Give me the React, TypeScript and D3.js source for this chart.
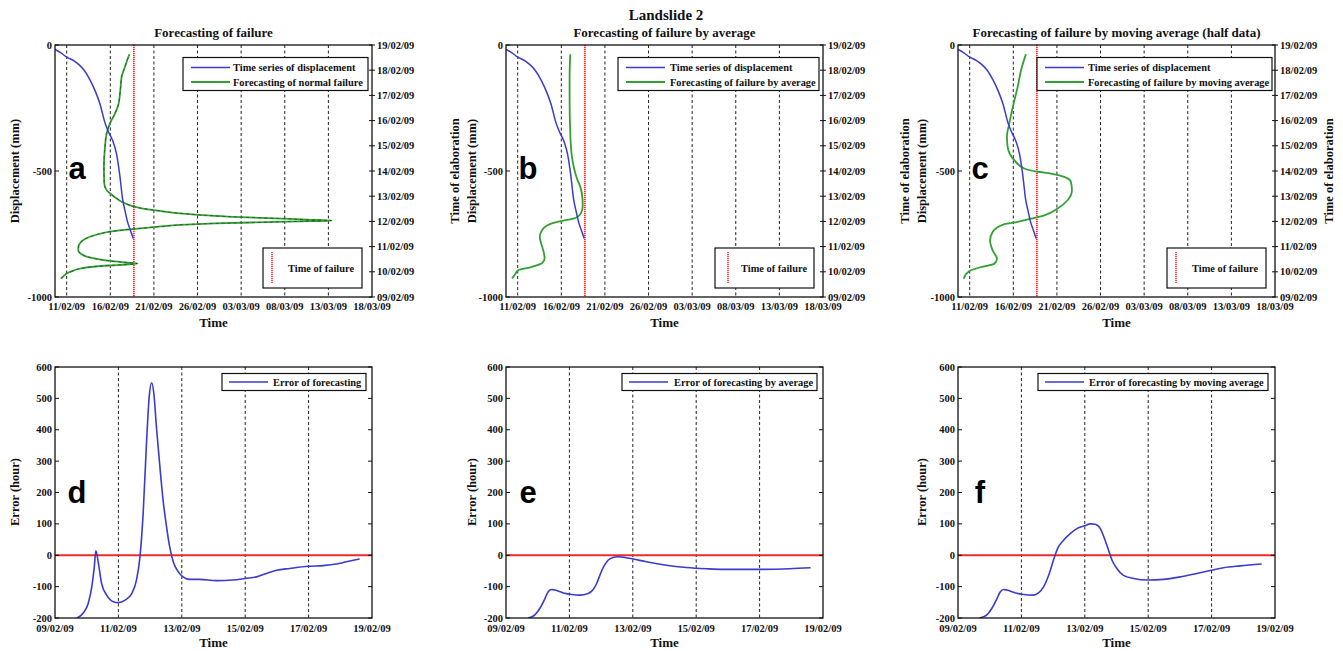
import { useEffect, useRef } from 'react';
import * as d3 from 'd3';

// day-of-February 2009 (values past 28 run into March)
const day = (d: number) => new Date(Date.UTC(2009, 1, 1) + (d - 1) * 864e5);
const parse = d3.utcParse('%d/%m/%y');

// time series of displacement: [day, mm]
const displacement: [number, number][] = [
  [9.66, -17], [10.3, -30], [11.0, -48], [11.8, -62], [12.4, -78], [13.0, -100], [13.7, -140],
  [14.3, -185], [14.8, -232], [15.4, -310], [15.8, -345], [16.3, -382], [16.7, -430], [17.1, -520],
  [17.4, -610], [17.7, -660], [18.0, -705], [18.3, -735], [18.63, -768],
];

// forecasts: [time of elaboration, forecast failure day]
const forecastNormal: [number, number][] = [
  [9.73, 10.35], [9.85, 10.7], [9.95, 11.1], [10.05, 11.8], [10.13, 12.53], [10.2, 14.0], [10.25, 15.8],
  [10.29, 17.87], [10.33, 19.1], [10.37, 17.8], [10.43, 15.96], [10.52, 14.3], [10.6, 13.29], [10.72, 12.6],
  [10.86, 12.33], [11.0, 12.35], [11.13, 12.52], [11.26, 12.9], [11.39, 13.67], [11.5, 14.7], [11.59, 15.96],
  [11.67, 17.8], [11.73, 19.74], [11.8, 21.8], [11.86, 23.98], [11.92, 28], [11.97, 34], [12.01, 39],
  [12.03, 41.35], [12.07, 38.5], [12.11, 35.8], [12.18, 30.08], [12.24, 27], [12.31, 24.36], [12.39, 22.2],
  [12.47, 20.54], [12.55, 19.2], [12.64, 18.25], [12.78, 17.3], [12.91, 16.73], [13.08, 16.1], [13.24, 15.58],
  [13.5, 15.31], [13.8, 15.28], [14.2, 15.27], [14.96, 15.39], [15.49, 15.58], [15.89, 15.96], [16.28, 16.53],
  [16.6, 16.9], [17.08, 17.11], [17.4, 17.2], [17.74, 17.3], [18.14, 17.68], [18.63, 18.18],
];
const forecastAverage: [number, number][] = [
  [9.74, 10.36], [9.9, 10.7], [10.07, 11.1], [10.18, 12.45], [10.34, 13.8], [10.54, 14.09], [10.75, 14.0],
  [11.0, 13.8], [11.39, 13.53], [11.66, 13.8], [11.82, 14.3], [11.95, 15.19], [12.05, 16.5], [12.12, 17.48],
  [12.32, 18.25], [12.6, 18.45], [12.85, 18.44], [13.38, 18.17], [13.64, 17.86], [14.56, 17.22],
  [15.49, 17.03], [16.81, 16.95], [17.74, 16.95], [18.63, 17.03],
];
const forecastMoving: [number, number][] = [
  [9.73, 10.31], [10.03, 10.96], [10.19, 12.3], [10.32, 13.82], [10.52, 14.13], [10.85, 13.63], [11.25, 13.33],
  [11.58, 13.63], [11.89, 14.97], [11.98, 16.5], [12.11, 18.02], [12.24, 19.55], [12.51, 21.08], [12.84, 22.22],
  [13.24, 22.72], [13.57, 22.6], [13.77, 21.84], [13.9, 20.31], [13.97, 18.79], [14.1, 17.26], [14.43, 16.11],
  [14.96, 15.35], [15.36, 15.27], [15.89, 15.54], [16.68, 16.04], [17.34, 16.5], [18.14, 16.99], [18.63, 17.45],
];
const failureDay = 18.7;

// errors: [day, hours]
const errorNormal: [number, number][] = [
  [9.7, -200], [9.89, -184], [10.05, -153], [10.16, -101], [10.24, -37], [10.29, 14], [10.37, -26], [10.47, -90],
  [10.63, -127], [10.84, -148], [11.0, -151], [11.21, -143], [11.42, -122], [11.57, -79], [11.68, -5],
  [11.78, 132], [11.89, 365], [11.97, 503], [12.05, 550], [12.12, 514], [12.2, 408], [12.31, 281], [12.41, 175],
  [12.52, 90], [12.62, 26], [12.73, -21], [12.89, -53], [13.04, -69], [13.25, -77], [13.57, -77], [14.09, -81],
  [14.62, -79], [15.0, -74], [15.36, -69], [15.67, -58], [15.99, -48], [16.41, -42], [16.99, -35], [17.46, -33],
  [17.88, -28], [18.19, -21], [18.61, -12],
];
const errorAverage: [number, number][] = [
  [9.7, -200], [9.91, -190], [10.07, -169], [10.23, -138], [10.33, -116], [10.44, -109], [10.54, -111],
  [10.81, -120], [11.07, -125], [11.33, -127], [11.59, -122], [11.75, -109], [11.86, -90], [11.96, -64],
  [12.09, -35], [12.22, -16], [12.38, -7], [12.54, -5], [12.75, -7], [13.01, -12], [13.43, -21], [14.06, -32],
  [14.69, -39], [15.32, -43], [15.85, -45], [16.9, -45], [17.95, -43], [18.61, -40],
];
const errorMoving: [number, number][] = [
  [9.68, -200], [9.91, -190], [10.07, -169], [10.23, -138], [10.33, -117], [10.44, -109], [10.54, -111],
  [10.81, -120], [11.07, -125], [11.38, -127], [11.54, -120], [11.7, -101], [11.86, -64], [12.01, -16],
  [12.14, 21], [12.33, 48], [12.54, 69], [12.75, 85], [13.0, 94], [13.17, 100], [13.33, 99], [13.49, 85],
  [13.64, 48], [13.75, 16], [13.86, -16], [14.01, -42], [14.22, -64], [14.54, -74], [14.99, -79], [15.48, -77],
  [16.01, -69], [16.53, -58], [16.99, -48], [17.37, -40], [17.9, -34], [18.58, -28],
];

// tick labels
const topTimeTicks = ['11/02/09', '16/02/09', '21/02/09', '26/02/09', '03/03/09', '08/03/09', '13/03/09', '18/03/09'];
const elabTicks = ['09/02/09', '10/02/09', '11/02/09', '12/02/09', '13/02/09', '14/02/09', '15/02/09', '16/02/09', '17/02/09', '18/02/09', '19/02/09'];
const dispTicks = [0, -500, -1000];
const errTimeTicks = ['09/02/09', '11/02/09', '13/02/09', '15/02/09', '17/02/09', '19/02/09'];
const errTicks = [600, 500, 400, 300, 200, 100, 0, -100, -200];

const BLUE = '#3b3bcc';
const GREEN = '#33a033';
const RED = '#ee2b2b';
const SERIF = '"Liberation Serif", "Times New Roman", serif';
const SANS = '"Liberation Sans", Arial, sans-serif';
const W = 317;
const TICK = 10.5;
const LEG = 10.4;

const topPanels = [
  { left: 55, letter: 'a', title: 'Forecasting of failure', green: forecastNormal, dashed: true,
    greenLabel: 'Forecasting of normal failure', yLabels: [{ x: 15, t: 'Displacement (mm)' }], rightLabel: false,
    leg: [128, 313, 178], leg2: [208, 307, 217, 233] },
  { left: 506, letter: 'b', title: 'Forecasting of failure by average', green: forecastAverage, dashed: false,
    greenLabel: 'Forecasting of failure by average',
    yLabels: [{ x: 455, t: 'Time of elaboration' }, { x: 472, t: 'Displacement (mm)' }], rightLabel: false,
    leg: [112, 313, 164], leg2: [209, 308, 222, 235] },
  { left: 958, letter: 'c', title: 'Forecasting of failure by moving average (half data)', green: forecastMoving, dashed: false,
    greenLabel: 'Forecasting of failure by moving average',
    yLabels: [{ x: 905, t: 'Time of elaboration' }, { x: 922, t: 'Displacement (mm)' }], rightLabel: true,
    leg: [79, 314, 130], leg2: [209, 308, 218, 234] },
];

const bottomPanels = [
  { left: 55, letter: 'd', data: errorNormal, label: 'Error of forecasting', yLabelX: 15, leg: [167, 311, 218] },
  { left: 506, letter: 'e', data: errorAverage, label: 'Error of forecasting by average', yLabelX: 472, leg: [116, 311, 168] },
  { left: 958, letter: 'f', data: errorMoving, label: 'Error of forecasting by moving average', yLabelX: 922, leg: [80, 310, 131] },
];

function txt(g: any, x: number, y: number, s: string, size: number, anchor = 'middle') {
  return g.append('text').attr('x', x).attr('y', y).attr('text-anchor', anchor)
    .style('font-family', SERIF).style('font-weight', 'bold').style('font-size', `${size}px`)
    .style('fill', '#111').text(s);
}

export default function App() {
  const svgRef = useRef<SVGSVGElement>(null);

  useEffect(() => {
    const svg = d3.select(svgRef.current);
    svg.selectAll('*').remove();

    svg.append('rect').attr('width', 1343).attr('height', 651).attr('fill', 'white');
    txt(svg, 666, 20, 'Landslide 2', 15);

    // ---------- top panels ----------
    topPanels.forEach((p, i) => {
      const H = 252;
      const g = svg.append('g').attr('transform', `translate(${p.left},45)`);
      const x = d3.scaleUtc().domain([day(9.66), parse('18/03/09')!]).range([0, W]);
      const yDisp = d3.scaleLinear().domain([-1000, 0]).range([H, 0]);
      const yElab = d3.scaleUtc().domain([parse('09/02/09')!, parse('19/02/09')!]).range([H, 0]);

      const clipId = `clipTop${i}`;
      g.append('clipPath').attr('id', clipId).append('rect').attr('width', W).attr('height', H);

      // dashed verticals at time ticks
      topTimeTicks.forEach(t => {
        const xx = x(parse(t)!);
        if (xx > 1 && xx < W - 1) {
          g.append('line').attr('x1', xx).attr('x2', xx).attr('y1', 0).attr('y2', H)
            .attr('stroke', '#222').attr('stroke-width', 1).attr('stroke-dasharray', '3,2.5');
        }
      });

      // time of failure
      g.append('line').attr('x1', x(day(failureDay))).attr('x2', x(day(failureDay)))
        .attr('y1', 0).attr('y2', H).attr('stroke', RED).attr('stroke-width', 1.8).attr('stroke-dasharray', '1.2,0.8');

      const plot = g.append('g').attr('clip-path', `url(#${clipId})`);
      const blueLine = d3.line<[number, number]>()
        .x(d => x(day(d[0]))).y(d => yDisp(d[1])).curve(d3.curveMonotoneX);
      const greenLine = d3.line<[number, number]>()
        .x(d => x(day(d[1]))).y(d => yElab(day(d[0]))).curve(d3.curveMonotoneY);

      plot.append('path').attr('d', greenLine(p.green)).attr('fill', 'none')
        .attr('stroke', GREEN).attr('stroke-width', 1.8);
      if (p.dashed) {
        plot.append('path').attr('d', greenLine(p.green)).attr('fill', 'none')
          .attr('stroke', '#1c4d1c').attr('stroke-width', 0.7).attr('stroke-dasharray', '3,3');
      }
      plot.append('path').attr('d', blueLine(displacement)).attr('fill', 'none')
        .attr('stroke', BLUE).attr('stroke-width', 1.5);

      // frame
      g.append('rect').attr('width', W).attr('height', H).attr('fill', 'none')
        .attr('stroke', '#111').attr('stroke-width', 1.3);

      // left ticks
      dispTicks.forEach(v => {
        g.append('line').attr('x1', 0).attr('x2', 4).attr('y1', yDisp(v)).attr('y2', yDisp(v)).attr('stroke', '#111');
        txt(g, -3, yDisp(v) + 3.5, String(v), TICK, 'end');
      });
      // right ticks
      elabTicks.forEach(t => {
        const yy = yElab(parse(t)!);
        g.append('line').attr('x1', W - 3).attr('x2', W + 3).attr('y1', yy).attr('y2', yy).attr('stroke', '#111');
        txt(g, W + 5, yy + 3.5, t, TICK, 'start');
      });
      // bottom ticks
      topTimeTicks.forEach(t => {
        txt(g, x(parse(t)!), H + 13, t, TICK);
      });

      txt(g, W / 2, -8, p.title, 13);
      txt(g, W / 2, H + 30, 'Time', 13);

      p.yLabels.forEach(l => {
        txt(svg, 0, 0, l.t, 12.5).attr('transform', `translate(${l.x + 4},171) rotate(-90)`);
      });
      if (p.rightLabel) {
        txt(svg, 0, 0, 'Time of elaboration', 12.5).attr('transform', `translate(1333,171) rotate(-90)`);
      }

      g.append('text').attr('x', 22).attr('y', 134)
        .attr('text-anchor', 'middle')
        .style('font-family', SANS).style('font-weight', 'bold').style('font-size', '31px')
        .style('fill', '#000').text(p.letter);

      // legend with two series
      const [lx0, lx1, tx] = p.leg;
      const lg = g.append('g');
      lg.append('rect').attr('x', lx0).attr('y', 12.5).attr('width', lx1 - lx0).attr('height', 33)
        .attr('fill', 'white').attr('stroke', '#111').attr('stroke-width', 1.2);
      lg.append('line').attr('x1', lx0 + 8).attr('x2', lx0 + 47).attr('y1', 22.5).attr('y2', 22.5)
        .attr('stroke', BLUE).attr('stroke-width', 1.5);
      lg.append('line').attr('x1', lx0 + 8).attr('x2', lx0 + 47).attr('y1', 37).attr('y2', 37)
        .attr('stroke', GREEN).attr('stroke-width', 1.8);
      txt(lg, tx, 26, 'Time series of displacement', LEG, 'start');
      txt(lg, tx, 40.5, p.greenLabel, LEG, 'start');

      // legend: time of failure
      const [bx0, bx1, rx, ttx] = p.leg2;
      lg.append('rect').attr('x', bx0).attr('y', 203).attr('width', bx1 - bx0).attr('height', 40)
        .attr('fill', 'white').attr('stroke', '#111').attr('stroke-width', 1.2);
      lg.append('line').attr('x1', rx).attr('x2', rx).attr('y1', 207).attr('y2', 238)
        .attr('stroke', RED).attr('stroke-width', 1.6).attr('stroke-dasharray', '1.2,0.8');
      txt(lg, ttx, 226.5, 'Time of failure', LEG, 'start');
    });

    // ---------- bottom panels ----------
    bottomPanels.forEach((p, i) => {
      const H = 251;
      const g = svg.append('g').attr('transform', `translate(${p.left},367)`);
      const x = d3.scaleUtc().domain([parse('09/02/09')!, parse('19/02/09')!]).range([0, W]);
      const y = d3.scaleLinear().domain([-200, 600]).range([H, 0]);

      const clipId = `clipBot${i}`;
      g.append('clipPath').attr('id', clipId).append('rect').attr('width', W).attr('height', H);

      errTimeTicks.forEach(t => {
        const xx = x(parse(t)!);
        if (xx > 1 && xx < W - 1) {
          g.append('line').attr('x1', xx).attr('x2', xx).attr('y1', 0).attr('y2', H)
            .attr('stroke', '#222').attr('stroke-width', 1).attr('stroke-dasharray', '3,2.5');
        }
        txt(g, xx, H + 14, t, TICK);
      });

      g.append('line').attr('x1', 0).attr('x2', W).attr('y1', y(0)).attr('y2', y(0))
        .attr('stroke', RED).attr('stroke-width', 2);

      const line = d3.line<[number, number]>()
        .x(d => x(day(d[0]))).y(d => y(d[1])).curve(d3.curveMonotoneX);
      g.append('g').attr('clip-path', `url(#${clipId})`).append('path')
        .attr('d', line(p.data)).attr('fill', 'none').attr('stroke', BLUE).attr('stroke-width', 1.6);

      g.append('rect').attr('width', W).attr('height', H).attr('fill', 'none')
        .attr('stroke', '#111').attr('stroke-width', 1.3);

      errTicks.forEach(v => {
        g.append('line').attr('x1', 0).attr('x2', 4).attr('y1', y(v)).attr('y2', y(v)).attr('stroke', '#111');
        g.append('line').attr('x1', W - 4).attr('x2', W).attr('y1', y(v)).attr('y2', y(v)).attr('stroke', '#111');
        txt(g, -3, y(v) + 3.5, String(v), TICK, 'end');
      });

      txt(g, W / 2, H + 29, 'Time', 13);
      txt(svg, 0, 0, 'Error (hour)', 12.5).attr('transform', `translate(${p.yLabelX + 4},492) rotate(-90)`);

      g.append('text').attr('x', 22).attr('y', 136).attr('text-anchor', 'middle')
        .style('font-family', SANS).style('font-weight', 'bold').style('font-size', '31px')
        .style('fill', '#000').text(p.letter);

      const [lx0, lx1, tx] = p.leg;
      g.append('rect').attr('x', lx0).attr('y', 6.5).attr('width', lx1 - lx0).attr('height', 17)
        .attr('fill', 'white').attr('stroke', '#111').attr('stroke-width', 1.2);
      g.append('line').attr('x1', lx0 + 7).attr('x2', lx0 + 46).attr('y1', 15).attr('y2', 15)
        .attr('stroke', BLUE).attr('stroke-width', 1.5);
      txt(g, tx, 18.5, p.label, LEG, 'start');
    });
  }, []);

  return (
    <div style={{ position: 'absolute', left: 0, top: 0 }}>
      <svg ref={svgRef} width={1343} height={651}></svg>
    </div>
  );
}
